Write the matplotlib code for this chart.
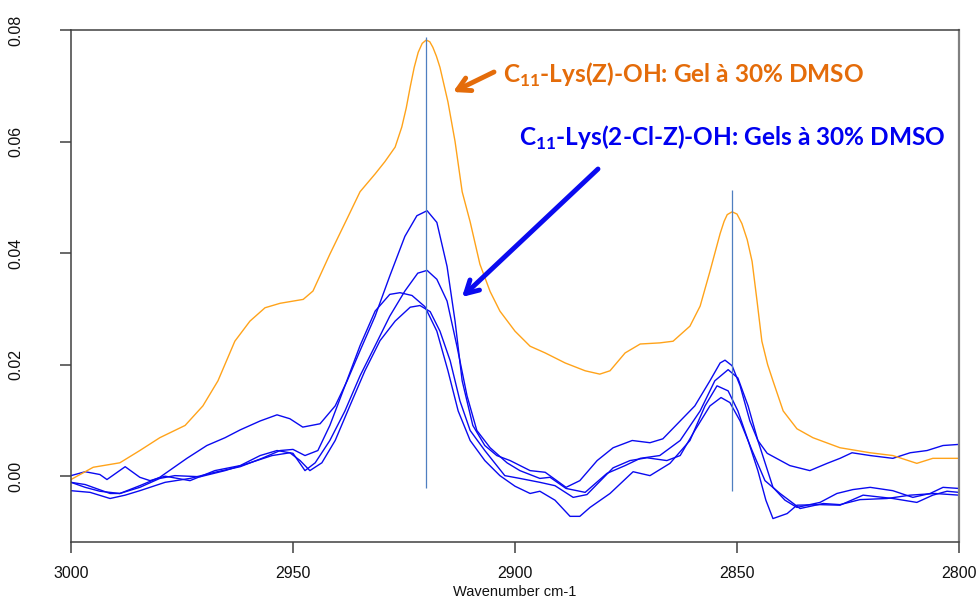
import matplotlib
matplotlib.use("Agg")
import matplotlib.pyplot as plt

plt.rcParams['font.family'] = ['Liberation Sans', 'DejaVu Sans']
plt.rcParams['mathtext.fontset'] = 'custom'
plt.rcParams['mathtext.bf'] = 'Lato:bold'
plt.rcParams['mathtext.rm'] = 'Lato'

# ---------------- data ----------------
orange_wn = [3000.0, 2995.0, 2989.0, 2984.5, 2980.0, 2974.3, 2970.3, 2966.9, 2963.1, 2959.7,
             2956.3, 2952.9, 2947.7, 2945.5, 2941.7, 2937.8, 2934.9, 2931.5, 2929.3, 2927.0,
             2925.5, 2924.5, 2923.6, 2922.7, 2921.8, 2920.9, 2920.0, 2919.2, 2918.5, 2917.7,
             2916.9, 2915.1, 2913.5, 2911.9, 2910.1,
             2907.9, 2905.6, 2903.4, 2900.0, 2896.6, 2893.2, 2888.7, 2884.2, 2880.9, 2878.6,
             2875.2, 2871.8, 2867.4, 2864.4, 2860.6, 2858.3, 2856.1, 2853.8, 2852.9, 2852.2,
             2851.1, 2850.0, 2848.9, 2847.7, 2846.6, 2845.5, 2844.4, 2843.1, 2841.9, 2839.6,
             2836.5, 2832.9, 2826.8, 2820.0, 2814.9, 2809.5, 2805.9, 2800.0]
orange_abs = [-0.0006, 0.0016, 0.0024, 0.0046, 0.0069, 0.0091, 0.0126, 0.0171, 0.0242, 0.0278,
              0.0302, 0.0310, 0.0317, 0.0332, 0.0398, 0.0462, 0.0510, 0.0542, 0.0564, 0.0590,
              0.0626, 0.0660, 0.0698, 0.0733, 0.0760, 0.0776, 0.0782, 0.0779, 0.0769, 0.0753,
              0.0733, 0.0671, 0.0600, 0.0510, 0.0456,
              0.0380, 0.0331, 0.0296, 0.0260, 0.0233, 0.0221, 0.0203, 0.0189, 0.0183, 0.0189,
              0.0221, 0.0237, 0.0239, 0.0242, 0.0269, 0.0305, 0.0367, 0.0435, 0.0457, 0.0469,
              0.0474, 0.0470, 0.0453, 0.0424, 0.0385, 0.0315, 0.0242, 0.0200, 0.0171, 0.0117,
              0.0085, 0.0069, 0.0051, 0.0042, 0.0037, 0.0023, 0.0032, 0.0032]

blue1_wn = [3000.0, 2996.8, 2993.5, 2989.0, 2984.5, 2980.0, 2973.9, 2969.4, 2965.3, 2961.9,
            2957.4, 2953.6, 2950.7, 2947.8, 2943.9, 2940.5, 2937.8, 2934.9, 2931.5, 2928.2,
            2924.8, 2922.1, 2919.8, 2917.6, 2915.3, 2913.5, 2911.9, 2909.5, 2906.8, 2904.1,
            2901.1, 2896.6, 2893.2, 2888.5, 2885.4, 2881.5, 2877.9, 2873.6, 2869.6, 2866.7,
            2862.8, 2859.5, 2856.1, 2853.8, 2852.7, 2851.1, 2849.3, 2847.1, 2845.3, 2843.2,
            2838.1, 2833.6, 2829.7, 2826.8, 2824.1, 2820.0, 2814.9, 2811.0, 2807.2, 2803.6,
            2800.0]
blue1_abs = [-0.0011, -0.0020, -0.0027, -0.0031, -0.0017, -0.0002, 0.0032, 0.0055, 0.0069, 0.0083,
             0.0099, 0.0110, 0.0103, 0.0088, 0.0094, 0.0126, 0.0171, 0.0225, 0.0287, 0.0359,
             0.0430, 0.0467, 0.0476, 0.0455, 0.0376, 0.0278, 0.0171, 0.0091, 0.0055, 0.0037,
             0.0028, 0.0010, 0.0007, -0.0020, -0.0008, 0.0028, 0.0051, 0.0064, 0.0060, 0.0067,
             0.0099, 0.0126, 0.0171, 0.0203, 0.0208, 0.0198, 0.0162, 0.0099, 0.0064, 0.0041,
             0.0019, 0.0010, 0.0023, 0.0032, 0.0042, 0.0037, 0.0032, 0.0042, 0.0046, 0.0055,
             0.0057]

blue2_wn = [3000.0, 2996.8, 2993.5, 2991.9, 2987.8, 2984.5, 2982.2, 2978.8, 2973.2, 2967.6,
            2961.9, 2957.4, 2953.6, 2950.0, 2947.3, 2945.0, 2941.7, 2938.3, 2934.9, 2931.5,
            2928.2, 2924.8, 2921.9, 2919.8, 2917.6, 2915.3, 2913.1, 2910.8, 2908.6, 2905.6,
            2901.8, 2898.9, 2894.4, 2892.1, 2888.5, 2884.2, 2879.3, 2875.2, 2871.8, 2867.4,
            2862.8, 2858.3, 2855.0, 2852.0, 2849.8, 2847.5, 2845.3, 2841.9, 2839.2, 2836.5,
            2831.3, 2827.5, 2823.9, 2820.0, 2814.9, 2810.4, 2806.5, 2803.6, 2800.0]
blue2_abs = [0.0001, 0.0008, 0.0003, -0.0006, 0.0017, -0.0002, -0.0008, 0.0000, -0.0008, 0.0010,
             0.0019, 0.0037, 0.0046, 0.0041, 0.0010, 0.0024, 0.0064, 0.0117, 0.0180, 0.0234,
             0.0287, 0.0332, 0.0364, 0.0369, 0.0353, 0.0314, 0.0234, 0.0144, 0.0082, 0.0051,
             0.0024, 0.0010, -0.0004, -0.0002, -0.0022, -0.0029, 0.0005, 0.0019, 0.0032, 0.0037,
             0.0064, 0.0117, 0.0171, 0.0191, 0.0176, 0.0126, 0.0064, -0.0020, -0.0043, -0.0056,
             -0.0047, -0.0031, -0.0024, -0.0020, -0.0026, -0.0038, -0.0031, -0.0020, -0.0022]

blue3_wn = [3000.0, 2995.7, 2991.2, 2987.8, 2984.5, 2978.8, 2973.2, 2967.6, 2961.9, 2957.0,
            2952.9, 2950.0, 2947.3, 2944.4, 2941.7, 2938.3, 2934.9, 2931.5, 2928.2, 2925.9,
            2923.2, 2920.3, 2917.6, 2915.1, 2912.8, 2910.1, 2906.8, 2903.4, 2900.0, 2896.6,
            2894.4, 2891.0, 2887.6, 2885.4, 2883.1, 2878.6, 2873.4, 2869.6, 2865.1, 2860.6,
            2857.2, 2854.5, 2852.0, 2849.8, 2847.5, 2845.3, 2843.5, 2841.9, 2838.7, 2836.5,
            2831.3, 2826.8, 2821.6, 2814.9, 2809.5, 2805.9, 2802.7, 2800.0]
blue3_abs = [-0.0026, -0.0029, -0.0040, -0.0034, -0.0026, -0.0011, -0.0004, 0.0007, 0.0017, 0.0032,
             0.0046, 0.0048, 0.0037, 0.0046, 0.0091, 0.0162, 0.0234, 0.0296, 0.0326, 0.0329,
             0.0324, 0.0304, 0.0260, 0.0189, 0.0117, 0.0064, 0.0028, 0.0001, -0.0018, -0.0031,
             -0.0027, -0.0043, -0.0072, -0.0072, -0.0056, -0.0031, 0.0008, 0.0001, 0.0023, 0.0064,
             0.0126, 0.0162, 0.0153, 0.0117, 0.0064, 0.0010, -0.0043, -0.0076, -0.0067, -0.0052,
             -0.0051, -0.0052, -0.0034, -0.0040, -0.0047, -0.0034, -0.0027, -0.0029]

blue4_wn = [3000.0, 2996.8, 2991.2, 2989.0, 2984.5, 2980.0, 2976.6, 2970.9, 2965.3, 2959.7,
            2954.7, 2950.7, 2948.4, 2946.2, 2943.5, 2940.5, 2937.2, 2933.8, 2930.4, 2927.0,
            2923.6, 2921.4, 2919.1, 2916.9, 2914.6, 2912.4, 2910.1, 2906.8, 2902.3, 2898.9,
            2894.4, 2891.0, 2886.9, 2883.8, 2877.9, 2874.1, 2870.3, 2865.8, 2862.8, 2859.5,
            2856.1, 2853.6, 2851.6, 2849.3, 2846.6, 2843.7, 2840.3, 2835.8, 2830.6, 2826.8,
            2822.3, 2816.2, 2811.0, 2805.4, 2800.0]
blue4_abs = [-0.0011, -0.0015, -0.0031, -0.0031, -0.0020, -0.0004, 0.0001, -0.0001, 0.0010, 0.0024,
             0.0037, 0.0042, 0.0028, 0.0010, 0.0024, 0.0064, 0.0126, 0.0189, 0.0243, 0.0278,
             0.0303, 0.0306, 0.0295, 0.0260, 0.0207, 0.0135, 0.0082, 0.0046, 0.0001, -0.0004,
             -0.0011, -0.0017, -0.0038, -0.0033, 0.0015, 0.0028, 0.0033, 0.0028, 0.0037, 0.0082,
             0.0126, 0.0141, 0.0132, 0.0099, 0.0046, -0.0008, -0.0031, -0.0058, -0.0049, -0.0051,
             -0.0042, -0.0040, -0.0034, -0.0031, -0.0034]

marker_wn = [2920.0, 2851.1]
marker_top = [0.0787, 0.0513]
marker_bottom = [-0.0022, -0.0026]

x_ticks = [3000, 2950, 2900, 2850, 2800]
x_labels = ['3000', '2950', '2900', '2850', '2800']
y_ticks = [0.00, 0.02, 0.04, 0.06, 0.08]
y_labels = ['0.00', '0.02', '0.04', '0.06', '0.08']

label_orange = r"$\mathbf{C}_{\mathbf{11}}$-Lys(Z)-OH: Gel à 30% DMSO"
label_blue = r"$\mathbf{C}_{\mathbf{11}}$-Lys(2-Cl-Z)-OH: Gels à 30% DMSO"

# ---------------- figure ----------------
W, H = 976, 600
fig = plt.figure(figsize=(W / 100, H / 100), dpi=100)
ax = fig.add_axes([71 / W, 1 - 542 / H, (959 - 71) / W, (542 - 30) / H])

blue = '#0A0AF0'
for wn, ab in [(blue1_wn, blue1_abs), (blue2_wn, blue2_abs), (blue3_wn, blue3_abs), (blue4_wn, blue4_abs)]:
    ax.plot(wn, ab, color=blue, lw=1.0, solid_joinstyle='round')
ax.plot(orange_wn, orange_abs, color='#FFA31A', lw=1.0, solid_joinstyle='round')
ax.vlines(marker_wn, marker_bottom, marker_top, color='#4F7FC0', lw=0.9)

ax.set_xlim(3000, 2800)
ax.set_ylim(-0.0118, 0.08)
ax.set_xticks(x_ticks)
ax.set_xticklabels(x_labels)
ax.set_yticks(y_ticks)
ax.set_yticklabels(y_labels)

for s in ['left', 'bottom', 'top']:
    ax.spines[s].set_color('#404040')
    ax.spines[s].set_linewidth(1.1)
ax.spines['right'].set_color('#808080')
ax.spines['right'].set_linewidth(1.6)

ax.tick_params(axis='x', direction='out', length=8, width=1.1, color='#404040',
               pad=9, labelsize=11.5, labelcolor='#111111')
ax.tick_params(axis='y', direction='out', length=8, width=1.1, color='#404040',
               pad=26, labelsize=11.5, labelrotation=90, labelcolor='#111111')
for t in ax.get_yticklabels():
    t.set_va('center')

ax.set_xlabel('Wavenumber cm-1', fontsize=10.5, labelpad=3, color='#111111')

# annotations
fig.text(503 / W, 1 - 75 / H, label_orange, color='#E46C0A', fontsize=17.6,
         fontfamily='Lato', fontweight='bold', ha='left', va='center')
fig.text(519 / W, 1 - 138 / H, label_blue, color='#0000F0', fontsize=17.6,
         fontfamily='Lato', fontweight='bold', ha='left', va='center')

ax.annotate('', xy=(453 / W, 1 - 92 / H), xytext=(494 / W, 1 - 72 / H),
            xycoords='figure fraction', textcoords='figure fraction',
            arrowprops=dict(arrowstyle='->,head_length=0.9,head_width=0.5',
                            lw=3.5, color='#E46C0A', shrinkA=0, shrinkB=0))
ax.annotate('', xy=(462 / W, 1 - 297 / H), xytext=(598 / W, 1 - 169 / H),
            xycoords='figure fraction', textcoords='figure fraction',
            arrowprops=dict(arrowstyle='->,head_length=0.9,head_width=0.5',
                            lw=3.5, color='#0A0AF0', shrinkA=0, shrinkB=0))

fig.savefig('out.png', dpi=100)
